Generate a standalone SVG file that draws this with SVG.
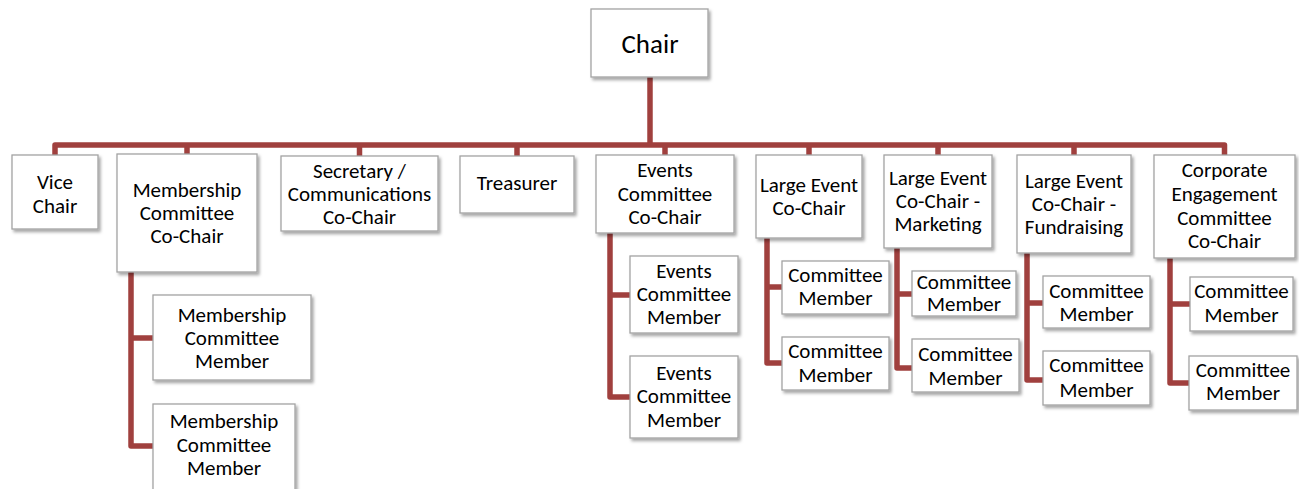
<svg xmlns="http://www.w3.org/2000/svg" width="1299" height="489" viewBox="0 0 1299 489">
<style>
.box{fill:#ffffff;stroke:#a3a3a3;stroke-width:1.3;filter:url(#sh)}
.t{font-family:Carlito,Lato,"Liberation Sans",sans-serif;font-size:21px;fill:#000;text-anchor:middle}
.big{font-size:27px}
.c{fill:none;stroke:#a0403e;stroke-width:5.5;stroke-linejoin:round}
</style>
<defs>
<filter id="sh" x="-10%" y="-10%" width="130%" height="130%">
<feDropShadow dx="2" dy="2.5" stdDeviation="1.6" flood-color="#000" flood-opacity="0.35"/>
</filter>
</defs>
<rect width="1299" height="489" fill="#ffffff"/>
<g id="connectors" class="c">
<path d="M650,77 V145"/>
<path d="M55,156 V145 H1224.5 V156"/>
<path d="M187,145 V155"/>
<path d="M359.5,145 V156"/>
<path d="M517,145 V156"/>
<path d="M665,145 V155"/>
<path d="M809,145 V155"/>
<path d="M938,145 V155"/>
<path d="M1074,145 V155"/>
<path d="M131,272 V446 H153 M131,338 H153"/>
<path d="M610,233 V397 H630 M610,295 H630"/>
<path d="M767,238 V363 H782 M767,287 H782"/>
<path d="M897,248 V368 H912 M897,294 H912"/>
<path d="M1027,253 V380 H1043 M1027,303 H1043"/>
<path d="M1170,258 V383 H1189 M1170,304 H1190"/>
</g>
<g id="chair"><rect class="box" x="591" y="9" width="117" height="68"/><text class="t big" x="650" y="53">Chair</text></g>
<g id="vice-chair"><rect class="box" x="12" y="155" width="86" height="74"/><text class="t" x="55" y="189">Vice</text><text class="t" x="55" y="213">Chair</text></g>
<g id="membership-cochair"><rect class="box" x="117" y="154" width="140" height="118"/><text class="t" x="187" y="197">Membership</text><text class="t" x="187" y="220">Committee</text><text class="t" x="187" y="243">Co-Chair</text></g>
<g id="secretary"><rect class="box" x="281" y="156" width="157" height="75"/><text class="t" x="359.5" y="178">Secretary /</text><text class="t" x="359.5" y="201">Communications</text><text class="t" x="359.5" y="224">Co-Chair</text></g>
<g id="treasurer"><rect class="box" x="460" y="156" width="114" height="57"/><text class="t" x="517" y="190">Treasurer</text></g>
<g id="events-cochair"><rect class="box" x="596" y="155" width="138" height="78"/><text class="t" x="665" y="177">Events</text><text class="t" x="665" y="201">Committee</text><text class="t" x="665" y="224">Co-Chair</text></g>
<g id="large-event-cochair"><rect class="box" x="756" y="155" width="106" height="83"/><text class="t" x="809" y="192">Large Event</text><text class="t" x="809" y="215">Co-Chair</text></g>
<g id="large-event-marketing"><rect class="box" x="884" y="155" width="108" height="93"/><text class="t" x="938" y="185">Large Event</text><text class="t" x="938" y="208">Co-Chair -</text><text class="t" x="938" y="231">Marketing</text></g>
<g id="large-event-fundraising"><rect class="box" x="1017" y="155" width="114" height="98"/><text class="t" x="1074" y="188">Large Event</text><text class="t" x="1074" y="211">Co-Chair -</text><text class="t" x="1074" y="234">Fundraising</text></g>
<g id="corporate-cochair"><rect class="box" x="1154" y="155" width="141" height="103"/><text class="t" x="1224.5" y="177">Corporate</text><text class="t" x="1224.5" y="201">Engagement</text><text class="t" x="1224.5" y="225">Committee</text><text class="t" x="1224.5" y="248">Co-Chair</text></g>
<g id="membership-member-1"><rect class="box" x="153" y="295" width="158" height="85"/><text class="t" x="232" y="322">Membership</text><text class="t" x="232" y="345">Committee</text><text class="t" x="232" y="368">Member</text></g>
<g id="membership-member-2"><rect class="box" x="153" y="404" width="142" height="90"/><text class="t" x="224" y="428">Membership</text><text class="t" x="224" y="452">Committee</text><text class="t" x="224" y="475">Member</text></g>
<g id="events-member-1"><rect class="box" x="630" y="256" width="108" height="77"/><text class="t" x="684" y="278">Events</text><text class="t" x="684" y="301">Committee</text><text class="t" x="684" y="324">Member</text></g>
<g id="events-member-2"><rect class="box" x="630" y="356" width="108" height="82"/><text class="t" x="684" y="380">Events</text><text class="t" x="684" y="403">Committee</text><text class="t" x="684" y="427">Member</text></g>
<g id="le-member-1"><rect class="box" x="782" y="261" width="107" height="53"/><text class="t" x="835.5" y="282">Committee</text><text class="t" x="835.5" y="305">Member</text></g>
<g id="le-member-2"><rect class="box" x="782" y="337" width="107" height="53"/><text class="t" x="835.5" y="358">Committee</text><text class="t" x="835.5" y="382">Member</text></g>
<g id="mk-member-1"><rect class="box" x="912" y="271" width="104" height="45"/><text class="t" x="964" y="289">Committee</text><text class="t" x="964" y="311">Member</text></g>
<g id="mk-member-2"><rect class="box" x="912" y="339" width="107" height="53"/><text class="t" x="965.5" y="361">Committee</text><text class="t" x="965.5" y="385">Member</text></g>
<g id="fr-member-1"><rect class="box" x="1043" y="276" width="107" height="52"/><text class="t" x="1096.5" y="298">Committee</text><text class="t" x="1096.5" y="321">Member</text></g>
<g id="fr-member-2"><rect class="box" x="1043" y="351" width="107" height="54"/><text class="t" x="1096.5" y="372">Committee</text><text class="t" x="1096.5" y="397">Member</text></g>
<g id="ce-member-1"><rect class="box" x="1190" y="277" width="103" height="54"/><text class="t" x="1241.5" y="298">Committee</text><text class="t" x="1241.5" y="322">Member</text></g>
<g id="ce-member-2"><rect class="box" x="1189" y="356" width="108" height="54"/><text class="t" x="1243" y="377">Committee</text><text class="t" x="1243" y="400">Member</text></g>
</svg>
